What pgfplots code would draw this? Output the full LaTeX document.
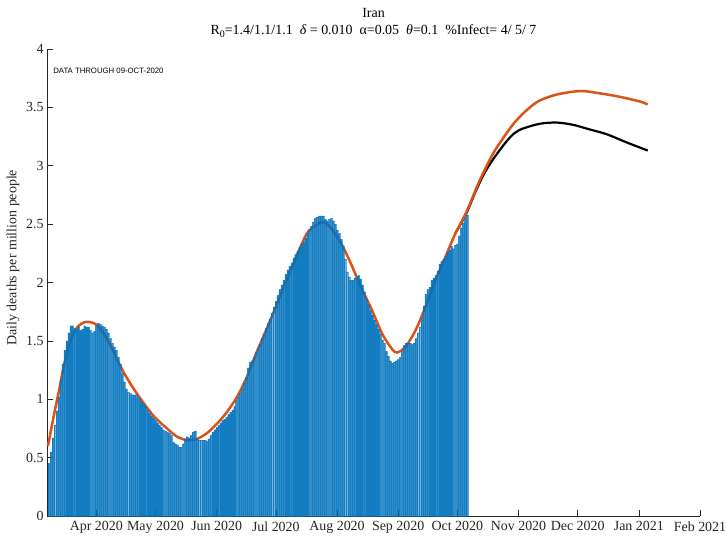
\documentclass[border=0pt]{standalone}
\usepackage{fontspec}
\setmainfont{Liberation Serif}
\newfontfamily\helv{Liberation Sans}
\usepackage{pgfplots}
\pgfplotsset{compat=1.18}
\usepackage{pgfplotstable}
\definecolor{matblue}{rgb}{0,0.447,0.741}
\definecolor{matorange}{rgb}{0.85,0.325,0.098}
\definecolor{axgray}{rgb}{0.15,0.15,0.15}

% day = days since 1 Mar 2020
\pgfplotstableread{
day deaths
7 0.45
8 0.55
9 0.67
10 0.78
11 0.90
12 1.02
13 1.17
14 1.30
15 1.42
16 1.50
17 1.57
18 1.63
19 1.63
20 1.61
21 1.60
22 1.62
23 1.59
24 1.60
25 1.63
26 1.62
27 1.62
28 1.59
29 1.57
30 1.58
31 1.63
32 1.65
33 1.64
34 1.63
35 1.62
36 1.60
37 1.57
38 1.52
39 1.48
40 1.45
41 1.42
42 1.36
43 1.30
44 1.22
45 1.15
46 1.09
47 1.06
48 1.05
49 1.04
50 1.04
51 1.04
52 1.02
53 1.00
54 0.98
55 0.96
56 0.94
57 0.91
58 0.88
59 0.86
60 0.84
61 0.82
62 0.80
63 0.78
64 0.76
65 0.74
66 0.73
67 0.72
68 0.71
69 0.69
70 0.63
71 0.62
72 0.61
73 0.59
74 0.59
75 0.62
76 0.66
77 0.68
78 0.67
79 0.69
80 0.72
81 0.73
82 0.66
83 0.65
84 0.65
85 0.65
86 0.65
87 0.64
88 0.66
89 0.69
90 0.72
91 0.74
92 0.76
93 0.78
94 0.80
95 0.82
96 0.83
97 0.85
98 0.87
99 0.89
100 0.91
101 0.94
102 0.99
103 1.02
104 1.05
105 1.09
106 1.14
107 1.19
108 1.27
109 1.32
110 1.33
111 1.36
112 1.40
113 1.44
114 1.47
115 1.52
116 1.56
117 1.61
118 1.65
119 1.69
120 1.74
121 1.79
122 1.84
123 1.89
124 1.94
125 1.98
126 2.02
127 2.07
128 2.11
129 2.14
130 2.17
131 2.21
132 2.24
133 2.27
134 2.30
135 2.33
136 2.35
137 2.38
138 2.42
139 2.45
140 2.48
141 2.52
142 2.55
143 2.56
144 2.57
145 2.57
146 2.57
147 2.54
148 2.53
149 2.54
150 2.55
151 2.53
152 2.50
153 2.45
154 2.42
155 2.37
156 2.31
157 2.20
158 2.09
159 2.05
160 2.02
161 2.02
162 2.04
163 2.05
164 2.06
165 2.03
166 1.98
167 1.92
168 1.86
169 1.81
170 1.76
171 1.72
172 1.68
173 1.64
174 1.60
175 1.56
176 1.51
177 1.48
178 1.41
179 1.37
180 1.33
181 1.31
182 1.32
183 1.33
184 1.34
185 1.36
186 1.41
187 1.46
188 1.48
189 1.48
190 1.48
191 1.47
192 1.48
193 1.52
194 1.57
195 1.62
196 1.70
197 1.80
198 1.90
199 1.94
200 1.96
201 2.02
202 2.04
203 2.06
204 2.10
205 2.16
206 2.18
207 2.20
208 2.23
209 2.26
210 2.28
211 2.31
212 2.29
213 2.32
214 2.33
215 2.40
216 2.47
217 2.51
218 2.55
219 2.58
}\deaths

\begin{document}
\begin{tikzpicture}
\path[use as bounding box] (-47bp,-20bp) rectangle (680bp,516bp);
\begin{axis}[
  at={(0,0)}, anchor=south west,
  scale only axis, width=653bp, height=467bp,
  xmin=6, xmax=337, ymin=0, ymax=4,
  clip=false,
  axis x line*=bottom, axis y line*=left,
  axis line style={axgray, line width=0.6bp, -},
  tick align=inside, major tick length=6bp,
  tick style={axgray, line width=0.6bp},
  xtick={31,61,92,122,153,184,214,245,275,306,337},
  xticklabels={Apr 2020,May 2020,Jun 2020,Jul 2020,Aug 2020,Sep 2020,Oct 2020,Nov 2020,Dec 2020,Jan 2021,Feb 2021},
  ytick={0,0.5,1,1.5,2,2.5,3,3.5,4},
  yticklabels={0,0.5,1,1.5,2,2.5,3,3.5,4},
  ticklabel style={font=\fontsize{14}{16}\selectfont, text=axgray},
  xticklabel style={yshift=-2bp},
  /pgf/number format/assume math mode=true,
  ylabel={Daily deaths per million people},
  ylabel style={font=\fontsize{14}{16}\selectfont, text=axgray,
    at={(axis description cs:-0.052,0.553)}, anchor=center},
]
\addplot[black, line width=2.2bp, smooth] coordinates {
  (213,2.42) (218.5,2.59) (223,2.77) (227.2,2.92) (232.3,3.06) (239,3.21)
  (243,3.28) (247.5,3.32) (255.9,3.36) (264.4,3.37) (272.8,3.35) (281.3,3.31)
  (289.7,3.27) (299.8,3.20) (310.5,3.13)
};
\addplot[matorange, line width=2.5bp, smooth] coordinates {
  (6.5,0.60) (9.7,0.88) (12.3,1.09) (14.8,1.31) (18.2,1.51) (21.5,1.62)
  (25,1.66) (28,1.66) (31.7,1.63) (36.7,1.51) (41,1.36) (45.2,1.22)
  (50.3,1.08) (55.3,0.96) (60.4,0.85) (66.8,0.75) (71.9,0.68) (77,0.65)
  (82,0.66) (87.1,0.71) (92.1,0.79) (97.2,0.89) (102.3,1.02) (107.3,1.19)
  (112.2,1.40) (120.5,1.73) (128.9,2.08) (137.4,2.41) (142.5,2.49)
  (145.8,2.52) (149.2,2.48) (154.3,2.36) (159.3,2.19) (164.4,1.99)
  (170.8,1.76) (175.9,1.56) (180.9,1.43) (183.5,1.40) (187.7,1.45)
  (192.8,1.59) (197.8,1.79) (202.9,2.02) (208,2.22) (213,2.42)
  (218.5,2.60) (225.5,2.88) (232.3,3.11) (239,3.28) (243,3.37) (247.5,3.45)
  (251.5,3.51) (255.9,3.56) (264.4,3.61) (276.2,3.64) (286.3,3.62) (296.5,3.59)
  (306.6,3.55) (310.5,3.525)
};
\addplot[ybar, bar width=0.85, fill=matblue, fill opacity=0.8,
  draw=matblue, draw opacity=0.6, line width=0.15bp] table[x=day, y=deaths] {\deaths};

\node[anchor=base, font=\fontsize{14}{16}\selectfont, text=black]
  at (axis description cs:0.5,1.068) {Iran};
\node[anchor=base, font=\fontsize{14}{16}\selectfont, text=black]
  at (axis description cs:0.5,1.032)
  {R\raisebox{-0.55ex}{\fontsize{10}{10}\selectfont 0}=1.4/1.1/1.1\ \ \textit{δ} = 0.010\ \ α=0.05\ \ \textit{θ}=0.1\ \ \%Infect= 4/ 5/ 7};
\node[anchor=west, font=\helv\fontsize{7.8}{8}\selectfont, text=black]
  at (axis cs:7.4,3.81) {DATA THROUGH 09-OCT-2020};
\end{axis}
\end{tikzpicture}
\end{document}
